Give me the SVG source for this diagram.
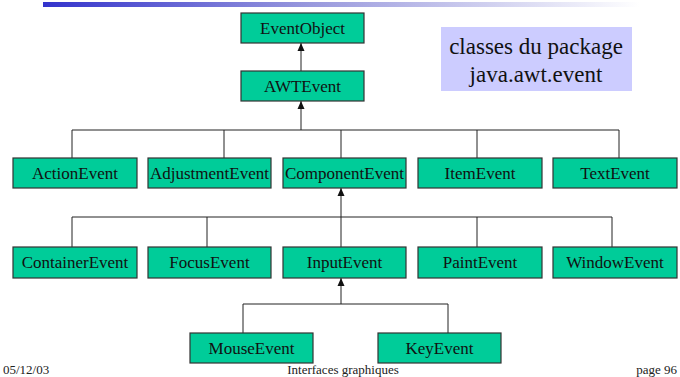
<svg xmlns="http://www.w3.org/2000/svg" width="680" height="377" viewBox="0 0 680 377">
<style>
.box{fill:#00cc99;stroke:#333;stroke-width:1.2}
.lbl{font-family:"Liberation Serif","Times New Roman",serif;font-size:17px;fill:#111;text-anchor:middle}
.ln{stroke:#222;stroke-width:1;fill:none}
.foot{font-family:"Liberation Serif","Times New Roman",serif;font-size:13px;fill:#222}
</style>
<defs>
<linearGradient id="bar" x1="0" y1="0" x2="1" y2="0">
<stop offset="0" stop-color="#3333cc"/>
<stop offset="0.45" stop-color="#9999dd"/>
<stop offset="1" stop-color="#ffffff"/>
</linearGradient>
<marker id="arr" viewBox="0 0 8 8" refX="8" refY="4" markerWidth="8" markerHeight="8" markerUnits="userSpaceOnUse" orient="auto">
<path d="M0,0.5 L8,4 L0,7.5 Z" fill="#111"/>
</marker>
</defs>
<rect x="43" y="2" width="597" height="5" fill="url(#bar)"/>
<g id="note">
<rect x="441" y="27" width="191" height="64" fill="#ccccff"/>
<text x="536" y="54" font-family="Liberation Serif, Times New Roman, serif" font-size="23" fill="#111" text-anchor="middle">classes du package</text>
<text x="536" y="82" font-family="Liberation Serif, Times New Roman, serif" font-size="23" fill="#111" text-anchor="middle">java.awt.event</text>
</g>
<g id="connectors">
<path class="ln" d="M301,71 L301,43" marker-end="url(#arr)"/>
<path class="ln" d="M301,130 L301,101" marker-end="url(#arr)"/>
<path class="ln" d="M72,158 L72,130 L619,130 L619,158 M224,130 L224,158 M341,130 L341,158 M477,130 L477,158"/>
<path class="ln" d="M341,217 L341,188" marker-end="url(#arr)"/>
<path class="ln" d="M72,247 L72,217 L612,217 L612,247 M207,217 L207,247 M341,217 L341,247 M477,217 L477,247"/>
<path class="ln" d="M341,304 L341,278" marker-end="url(#arr)"/>
<path class="ln" d="M243,333 L243,304 L448,304 L448,333"/>
</g>
<g id="EventObject"><rect class="box" x="241" y="13" width="123" height="30"/><text class="lbl" x="302.5" y="34">EventObject</text></g>
<g id="AWTEvent"><rect class="box" x="241" y="71" width="123" height="30"/><text class="lbl" x="302.5" y="92">AWTEvent</text></g>
<g id="ActionEvent"><rect class="box" x="13" y="158" width="124" height="30"/><text class="lbl" x="75" y="179">ActionEvent</text></g>
<g id="AdjustmentEvent"><rect class="box" x="148" y="158" width="123" height="30"/><text class="lbl" x="209.5" y="179">AdjustmentEvent</text></g>
<g id="ComponentEvent"><rect class="box" x="283" y="158" width="123" height="30"/><text class="lbl" x="344.5" y="179">ComponentEvent</text></g>
<g id="ItemEvent"><rect class="box" x="418" y="158" width="124" height="30"/><text class="lbl" x="480" y="179">ItemEvent</text></g>
<g id="TextEvent"><rect class="box" x="553" y="158" width="124" height="30"/><text class="lbl" x="615" y="179">TextEvent</text></g>
<g id="ContainerEvent"><rect class="box" x="13" y="247" width="124" height="31"/><text class="lbl" x="75" y="268">ContainerEvent</text></g>
<g id="FocusEvent"><rect class="box" x="148" y="247" width="123" height="31"/><text class="lbl" x="209.5" y="268">FocusEvent</text></g>
<g id="InputEvent"><rect class="box" x="283" y="247" width="123" height="31"/><text class="lbl" x="344.5" y="268">InputEvent</text></g>
<g id="PaintEvent"><rect class="box" x="418" y="247" width="124" height="31"/><text class="lbl" x="480" y="268">PaintEvent</text></g>
<g id="WindowEvent"><rect class="box" x="553" y="247" width="124" height="31"/><text class="lbl" x="615" y="268">WindowEvent</text></g>
<g id="MouseEvent"><rect class="box" x="190" y="333" width="123" height="30"/><text class="lbl" x="251.5" y="354">MouseEvent</text></g>
<g id="KeyEvent"><rect class="box" x="378" y="333" width="123" height="30"/><text class="lbl" x="439.5" y="354">KeyEvent</text></g>
<g id="footer">
<text class="foot" x="3" y="374">05/12/03</text>
<text class="foot" x="343" y="374" text-anchor="middle">Interfaces graphiques</text>
<text class="foot" x="677" y="374" text-anchor="end">page 96</text>
</g>
</svg>
